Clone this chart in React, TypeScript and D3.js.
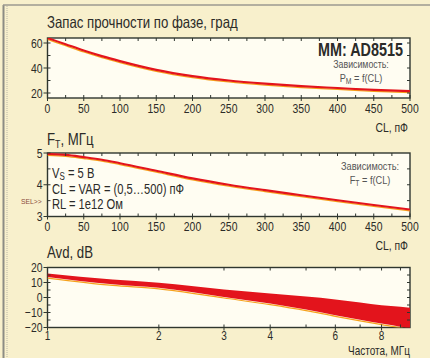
import * as d3 from "d3";
import React from "react";

// --- data ---
const clValues = [0, 25, 50, 75, 100, 150, 200, 250, 300, 350, 400, 450, 500];
const phaseMargin = [64, 59, 54, 49.5, 45.5, 38.5, 33.5, 30, 27.5, 25.5, 24, 22.5, 21.5];
const ftValues = [4.97, 4.94, 4.87, 4.79, 4.68, 4.44, 4.2, 4.0, 3.83, 3.67, 3.51, 3.36, 3.22];

const freqValues = [1, 1.5, 2, 3, 4, 5, 6, 7, 8, 9, 9.55];
const avdHigh = [16, 12, 9.8, 5.3, 2.7, 0.6, -1.3, -3.3, -5.1, -6.2, -6.9];
const avdLow = [13.7, 8.8, 6.5, 0.4, -4, -8, -11.8, -14.8, -17.3, -19.5, -21];

const clTicks = [0, 50, 100, 150, 200, 250, 300, 350, 400, 450, 500];
const phaseTicks = [20, 40, 60];
const ftTicks = [3, 4, 5];
const avdTicks = [-20, -10, 0, 10, 20];
const freqTicks = [1, 2, 3, 4, 6, 8];
const freqMinor = [5, 7, 9];

const FONT = "'Liberation Sans', Arial, sans-serif";
const INK = "#2b2b28";
const AXIS = "#2f362f";
const RED = "#e3141c";
const ORANGE = "#f6a21c";
const BG = "#f8f0cc";
const PLOT_BG = "#fffdf2";

const X0 = 47.5;
const X1 = 410;

type Frame = { top: number; bottom: number };

const clX = d3.scaleLinear().domain([0, 500]).range([X0, X1]);

// condensed-looking text: the originals use a narrow grotesque
function T(props: {
  x: number;
  y: number;
  size: number;
  anchor?: string;
  weight?: string;
  fill?: string;
  sx?: number;
  children: React.ReactNode;
}) {
  const { x, y, size, anchor = "start", weight = "normal", fill = INK, sx = 0.8 } = props;
  return (
    <text transform={`translate(${x},${y}) scale(${sx},1)`} textAnchor={anchor} fontSize={size} fontWeight={weight} fill={fill}>
      {props.children}
    </text>
  );
}

function PlotBox({ f }: { f: Frame }) {
  return (
    <rect x={X0} y={f.top} width={X1 - X0} height={f.bottom - f.top} fill={PLOT_BG} stroke={AXIS} strokeWidth={1.4} />
  );
}

function YAxis({ y, major, minor, right }: { y: d3.ScaleLinear<number, number>; major: number[]; minor: number[]; right: number[] }) {
  return (
    <g>
      {major.map((v) => (
        <g key={"M" + v}>
          <line x1={X0 - 4} x2={X0 + 3} y1={y(v)} y2={y(v)} stroke={AXIS} />
          <T x={X0 - 5} y={y(v) + 4.5} anchor="end" size={13}>
            {v < 0 ? "\u2212" + Math.abs(v) : String(v)}
          </T>
        </g>
      ))}
      {minor.map((v) => (
        <line key={"m" + v} x1={X0} x2={X0 + 3} y1={y(v)} y2={y(v)} stroke={AXIS} />
      ))}
      {right.map((v) => (
        <line key={"r" + v} x1={X1 - 3} x2={X1} y1={y(v)} y2={y(v)} stroke={AXIS} />
      ))}
    </g>
  );
}

function CLAxis({ f }: { f: Frame }) {
  const minor = d3.range(25, 500, 50);
  const all = d3.range(25, 500, 25);
  return (
    <g>
      {clTicks.map((v) => (
        <g key={v}>
          <line x1={clX(v)} x2={clX(v)} y1={f.bottom - 3} y2={f.bottom + 3} stroke={AXIS} />
          <T x={clX(v)} y={f.bottom + 14.5} anchor="middle" size={13}>
            {String(v)}
          </T>
        </g>
      ))}
      {minor.map((v) => (
        <line key={"m" + v} x1={clX(v)} x2={clX(v)} y1={f.bottom - 3} y2={f.bottom} stroke={AXIS} />
      ))}
      {all.map((v) => (
        <line key={"t" + v} x1={clX(v)} x2={clX(v)} y1={f.top} y2={f.top + 3} stroke={AXIS} />
      ))}
    </g>
  );
}

function Curve({ xs, ys, x, y }: { xs: number[]; ys: number[]; x: (v: number) => number; y: (v: number) => number }) {
  const pts = xs.map((v, i) => [v, ys[i]] as [number, number]);
  const line = d3
    .line<[number, number]>()
    .x((d) => x(d[0]))
    .y((d) => y(d[1]))
    .curve(d3.curveMonotoneX);
  const d = line(pts) || "";
  return (
    <g>
      <path d={d} fill="none" stroke={ORANGE} strokeWidth={1.3} transform="translate(0,1.4)" />
      <path d={d} fill="none" stroke={RED} strokeWidth={2.1} />
    </g>
  );
}

export default function App() {
  const f1: Frame = { top: 38, bottom: 98 };
  const f2: Frame = { top: 153, bottom: 216.5 };
  const f3: Frame = { top: 267.5, bottom: 327.5 };

  const yPhase = d3.scaleLinear().domain([16, 64]).range([f1.bottom, f1.top]);
  const yFt = d3.scaleLinear().domain([3, 5]).range([f2.bottom, f2.top]);
  const yAvd = d3.scaleLinear().domain([-20, 20]).range([f3.bottom, f3.top]);
  const fX = d3.scaleLog().domain([1, 9.55]).range([X0, X1]);

  const band = d3
    .area<number>()
    .x((_, i) => fX(freqValues[i]))
    .y0((_, i) => yAvd(avdLow[i]))
    .y1((_, i) => yAvd(avdHigh[i]))
    .curve(d3.curveMonotoneX);
  const lowLine = d3
    .line<number>()
    .x((_, i) => fX(freqValues[i]))
    .y((_, i) => yAvd(avdLow[i]))
    .curve(d3.curveMonotoneX);

  return (
    <svg width={430} height={358} style={{ position: "absolute", left: 0, top: 0 }} fontFamily={FONT}>
      <defs>
        <clipPath id="c1"><rect x={X0} y={f1.top} width={X1 - X0} height={f1.bottom - f1.top} /></clipPath>
        <clipPath id="c2"><rect x={X0} y={f2.top} width={X1 - X0} height={f2.bottom - f2.top} /></clipPath>
        <clipPath id="c3"><rect x={X0} y={f3.top} width={X1 - X0} height={f3.bottom - f3.top} /></clipPath>
      </defs>
      <rect width={430} height={358} fill={BG} />
      <line x1={3.5} x2={3.5} y1={5} y2={358} stroke="#8c8c84" strokeWidth={2} />
      <line x1={7} x2={7} y1={6} y2={358} stroke="#b8b6a6" strokeWidth={1} strokeDasharray="1 1" />
      <line x1={3} x2={430} y1={5} y2={5} stroke="#9c9a90" strokeWidth={1.5} />

      {/* panel 1: phase margin */}
      <T x={47} y={28} size={16.5}>Запас прочности по фазе, град</T>
      <PlotBox f={f1} />
      <g clipPath="url(#c1)">
        <Curve xs={clValues} ys={phaseMargin} x={clX} y={yPhase} />
      </g>
      <YAxis y={yPhase} major={phaseTicks} minor={[30, 50]} right={[20, 30, 40, 50, 60]} />
      <CLAxis f={f1} />
      <T x={403} y={56} anchor="end" size={18} weight="bold">MM: AD8515</T>
      <T x={361} y={68} anchor="middle" size={11} fill="#555">Зависимость:</T>
      <T x={361} y={82} anchor="middle" size={11.5} fill="#555">
        P<tspan fontSize={8.5} dy={2}>M</tspan><tspan dy={-2}> = f(CL)</tspan>
      </T>
      <T x={408} y={132} anchor="end" size={13}>CL, пФ</T>

      {/* panel 2: F_T */}
      <T x={47} y={145} size={16.5}>
        F<tspan fontSize={11} dy={3}>T</tspan><tspan dy={-3}>, МГц</tspan>
      </T>
      <PlotBox f={f2} />
      <g clipPath="url(#c2)">
        <Curve xs={clValues} ys={ftValues} x={clX} y={yFt} />
      </g>
      <YAxis y={yFt} major={ftTicks} minor={[3.5, 4.5]} right={[3.5, 4, 4.5]} />
      <CLAxis f={f2} />
      <T x={52} y={178} size={14}>V<tspan fontSize={10} dy={2}>S</tspan><tspan dy={-2}> = 5 B</tspan></T>
      <T x={52} y={194} size={14}>CL = VAR = (0,5…500) пФ</T>
      <T x={52} y={209} size={14}>RL = 1e12 Ом</T>
      <T x={21} y={204} size={7.5} fill="#8a4a3c" sx={0.9}>SEL&gt;&gt;</T>
      <T x={370} y={170} anchor="middle" size={11.5} fill="#555">Зависимость:</T>
      <T x={370} y={184} anchor="middle" size={11.5} fill="#555">
        F<tspan fontSize={8.5} dy={2}>T</tspan><tspan dy={-2}> = f(CL)</tspan>
      </T>
      <T x={408} y={250} anchor="end" size={13}>CL, пФ</T>

      {/* panel 3: Avd */}
      <T x={47} y={258} size={16.5}>Avd, dB</T>
      <PlotBox f={f3} />
      <g clipPath="url(#c3)">
        <path d={lowLine(freqValues) || ""} fill="none" stroke={ORANGE} strokeWidth={1.2} transform="translate(0,1.1)" />
        <path d={band(freqValues) || ""} fill={RED} />
      </g>
      <YAxis y={yAvd} major={avdTicks} minor={[-15, -5, 5, 15]} right={[-15, -10, -5, 0, 5, 10, 15]} />
      <g>
        {freqTicks.map((v) => (
          <g key={v}>
            <line x1={fX(v)} x2={fX(v)} y1={f3.bottom - 3} y2={f3.bottom + 3} stroke={AXIS} />
            <T x={fX(v)} y={f3.bottom + 12.5} anchor="middle" size={12.5}>{String(v)}</T>
          </g>
        ))}
        {freqMinor.map((v) => (
          <line key={"m" + v} x1={fX(v)} x2={fX(v)} y1={f3.bottom - 3} y2={f3.bottom} stroke={AXIS} />
        ))}
        {[2, 3, 4, 5, 6, 7, 8, 9].map((v) => (
          <line key={"t" + v} x1={fX(v)} x2={fX(v)} y1={f3.top} y2={f3.top + 3} stroke={AXIS} />
        ))}
      </g>
      <T x={410} y={354.5} anchor="end" size={12.5}>Частота, МГц</T>
    </svg>
  );
}
